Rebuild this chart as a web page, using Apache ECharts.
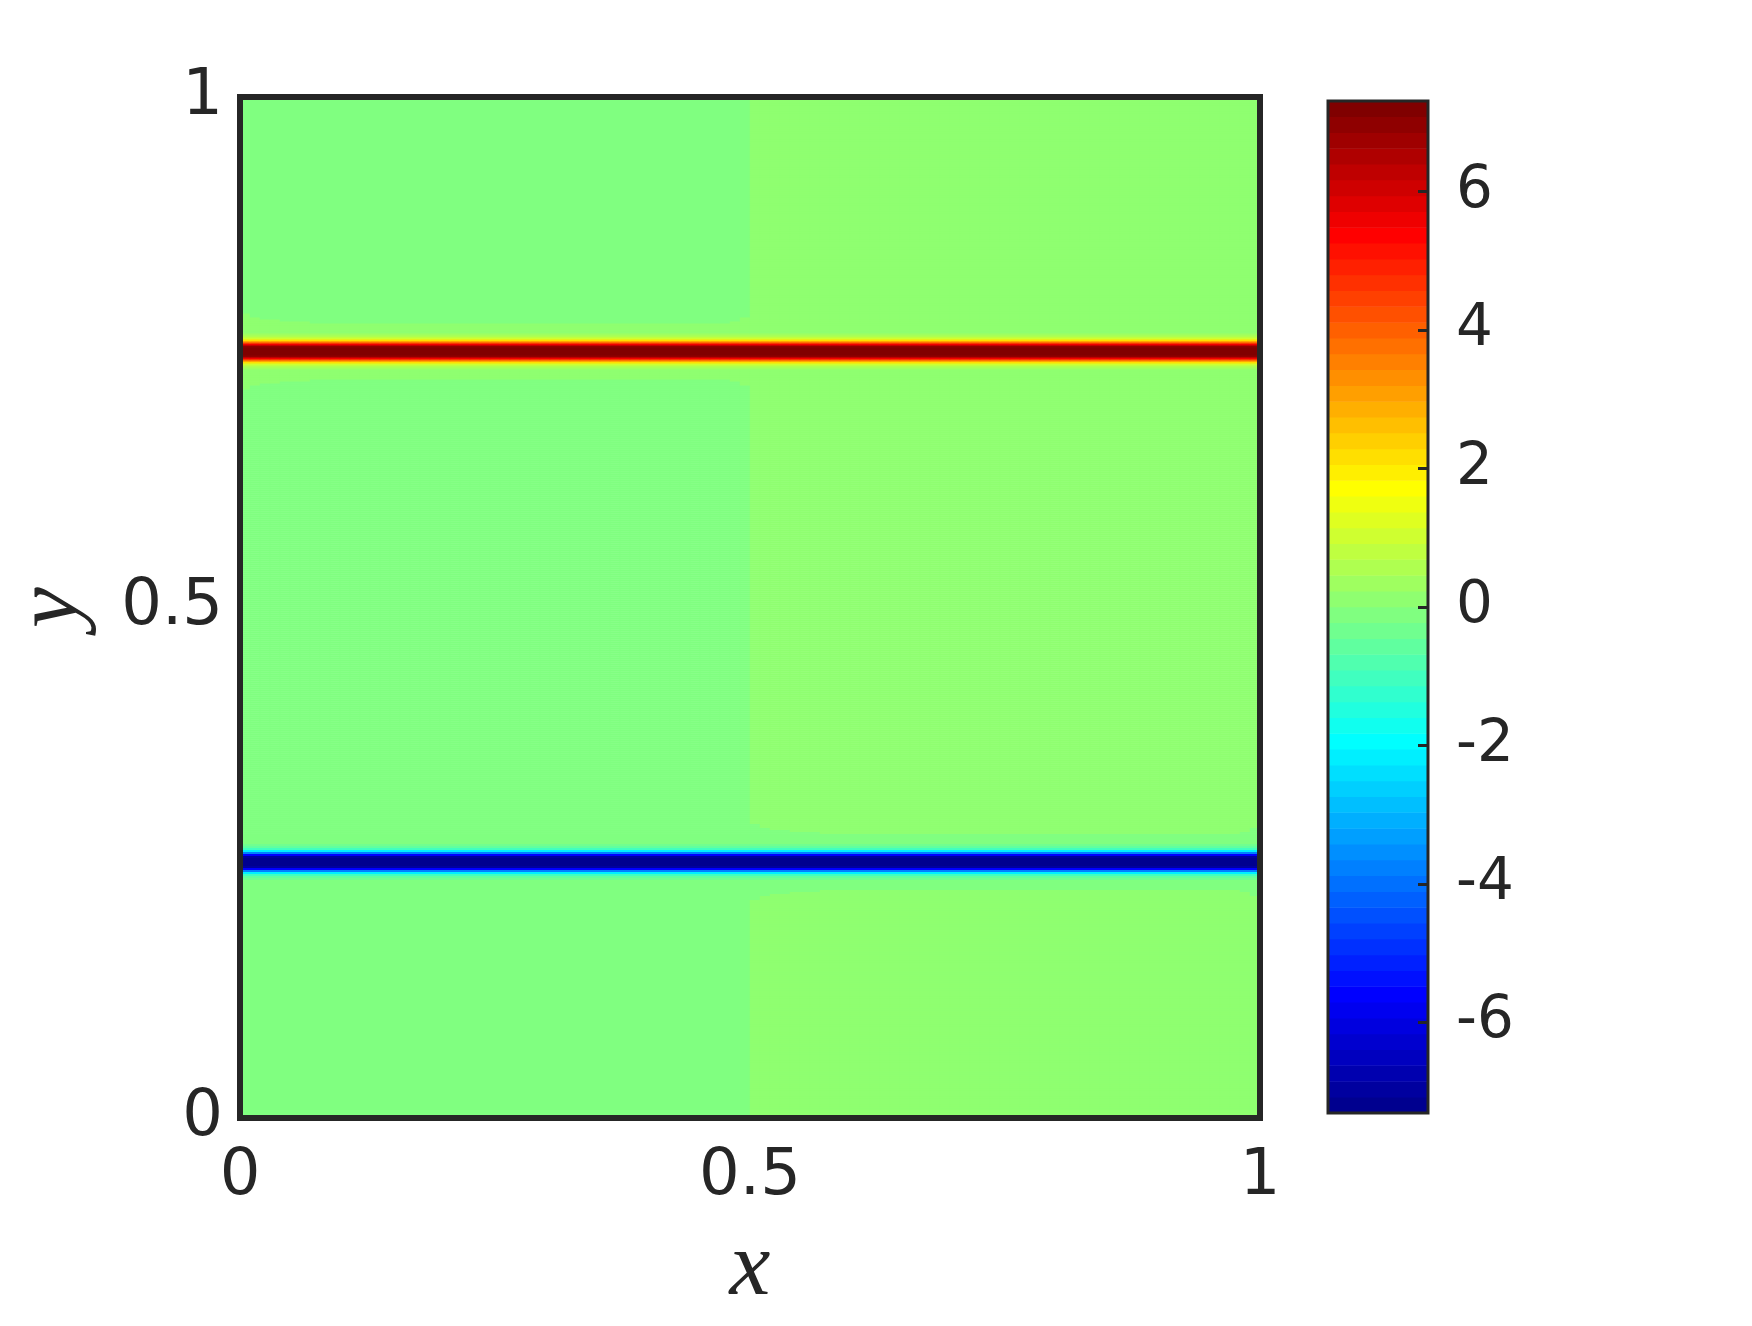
<!DOCTYPE html>
<html>
<head>
<meta charset="utf-8">
<script src="https://cdn.jsdelivr.net/npm/echarts@6/dist/echarts.min.js"></script>
<style>
  html, body { margin: 0; padding: 0; background: #fff; }
  #main { width: 1752px; height: 1326px; }
</style>
</head>
<body>
<div id="main"></div>
<script>
// field grid size (columns along x, rows along y)
const nCols = 102;
const nRows = 510;
// band centres, as row boundaries (y = 0.75 and y = 0.25)
const redCenter = 383;
const blueCenter = 128;
// band profile, value per row going away from the centre (1 row ~ 2px)
const redProfile = [7.6, 7.5, 7.0, 5.6, 3.8, 2.2, 1.1, 0.55, 0.27, 0.15, 0.09, 0.06, 0.04, 0.03, 0.022, 0.016, 0.011, 0.007, 0.004, 0.002];
const blueProfile = [-7.6, -7.5, -7.0, -5.6, -3.8, -2.2, -1.1, -0.55, -0.27, -0.15, -0.09, -0.06, -0.04, -0.03, -0.022, -0.016, -0.011, -0.007, -0.004, -0.002];
// background level of the left half (x<0.5) and right half (x>0.5)
const halfLevels = [-0.025, 0.025];
// weaker background near the start and end of each half
const startRamp = [0.15, 0.35, 0.5, 0.62, 0.72, 0.8, 0.86, 0.9, 0.94, 0.97];
const endRamp = [0.35, 0.7];
// colour scale
const cMin = -7.31;
const cMax = 7.31;
const nLevels = 64;
const cbTicks = [-6, -4, -2, 0, 2, 4, 6];

// jet colormap (MATLAB jet(64))
function jetColors(m) {
  const n = Math.ceil(m / 4);
  const u = [];
  for (let i = 1; i <= n; i++) u.push(i / n);
  for (let i = 1; i < n; i++) u.push(1);
  for (let i = n; i >= 1; i--) u.push(i / n);
  const J = [];
  for (let i = 0; i < m; i++) J.push([0, 0, 0]);
  const off = Math.ceil(n / 2) - (m % 4 === 1 ? 1 : 0);
  const bIdx = [];
  for (let k = 1; k <= u.length; k++) {
    const g = off + k, r = g + n, b = g - n;
    if (g <= m) J[g - 1][1] = u[k - 1];
    if (r <= m) J[r - 1][0] = u[k - 1];
    if (b >= 1) bIdx.push(b);
  }
  bIdx.forEach((b, i) => { J[b - 1][2] = u[u.length - bIdx.length + i]; });
  return J.map(c => 'rgb(' + c.map(v => Math.round(v * 255)).join(',') + ')');
}
const jet = jetColors(nLevels);
const step = (cMax - cMin) / nLevels;
const pieces = jet.map((color, i) => {
  const p = { color: color };
  if (i > 0) p.gte = cMin + i * step;
  if (i < nLevels - 1) p.lt = cMin + (i + 1) * step;
  return p;
});

function bandValue(profile, center, r) {
  const k = r >= center ? r - center : center - 1 - r;
  return k < profile.length ? profile[k] : 0;
}
function baseValue(c) {
  const half = nCols / 2;
  const h = c < half ? 0 : 1;
  const i = c - h * half;
  let f = 1;
  if (i < startRamp.length) f = startRamp[i];
  if (half - 1 - i < endRamp.length) f = Math.min(f, endRamp[half - 1 - i]);
  return halfLevels[h] * f;
}

const colCats = [], rowCats = [], cells = [];
for (let c = 0; c < nCols; c++) colCats.push(String(c));
for (let r = 0; r < nRows; r++) rowCats.push(String(r));
for (let r = 0; r < nRows; r++) {
  for (let c = 0; c < nCols; c++) {
    const v = baseValue(c) + bandValue(redProfile, redCenter, r) + bandValue(blueProfile, blueCenter, r);
    cells.push([c, r, v]);
  }
}
const cbCats = [], cbCells = [];
for (let i = 0; i < nLevels; i++) {
  cbCats.push(String(i));
  cbCells.push([0, i, cMin + (i + 0.5) * step]);
}

const ink = '#262626';
const tickFont = { fontFamily: 'DejaVu Sans', fontSize: 64, color: ink };
const nameFont = { fontFamily: 'Liberation Serif', fontStyle: 'italic', fontSize: 92, color: ink };

const chart = echarts.init(document.getElementById('main'));
chart.setOption({
  animation: false,
  backgroundColor: '#fff',
  grid: [
    { left: 240, top: 97, width: 1020, height: 1021, outerBoundsMode: 'none', containLabel: false, show: true, borderColor: ink, borderWidth: 6, backgroundColor: 'transparent', z: 10 },
    { left: 1328, top: 101, width: 100, height: 1012, outerBoundsMode: 'none', containLabel: false, show: true, borderColor: ink, borderWidth: 3, backgroundColor: 'transparent', z: 10 }
  ],
  visualMap: {
    type: 'piecewise',
    show: false,
    dimension: 2,
    seriesIndex: [0, 1],
    pieces: pieces
  },
  xAxis: [
    { type: 'category', gridIndex: 0, position: 'top', data: colCats, show: false },
    {
      type: 'value', gridIndex: 0, position: 'bottom', min: 0, max: 1, interval: 0.5,
      axisLine: { show: false }, axisTick: { show: false }, splitLine: { show: false },
      axisLabel: Object.assign({ margin: 27 }, tickFont),
      name: 'x', nameLocation: 'middle', nameGap: 106, nameTextStyle: nameFont
    },
    { type: 'category', gridIndex: 1, data: ['0'], show: false }
  ],
  yAxis: [
    { type: 'category', gridIndex: 0, position: 'right', data: rowCats, show: false },
    {
      type: 'value', gridIndex: 0, position: 'left', min: 0, max: 1, interval: 0.5,
      axisLine: { show: false }, axisTick: { show: false }, splitLine: { show: false },
      axisLabel: Object.assign({ margin: 17, padding: [6, 0, 0, 0] }, tickFont),
      name: 'y', nameLocation: 'middle', nameGap: 141, nameTextStyle: nameFont
    },
    { type: 'category', gridIndex: 1, position: 'left', data: cbCats, show: false },
    {
      type: 'value', gridIndex: 1, min: cMin, max: cMax, position: 'right',
      axisLine: { show: false }, splitLine: { show: false },
      axisTick: { show: true, inside: true, length: 10, customValues: cbTicks, lineStyle: { color: ink, width: 3 } },
      axisLabel: Object.assign({ margin: 28, customValues: cbTicks }, tickFont, { fontSize: 58 }),
      z: 11
    }
  ],
  series: [
    {
      type: 'heatmap', xAxisIndex: 0, yAxisIndex: 0, data: cells,
      progressive: 0, itemStyle: { borderWidth: 0 }, emphasis: { disabled: true }
    },
    {
      type: 'heatmap', xAxisIndex: 2, yAxisIndex: 2, data: cbCells,
      progressive: 0, itemStyle: { borderWidth: 0 }, emphasis: { disabled: true }
    }
  ]
});
</script>
</body>
</html>
